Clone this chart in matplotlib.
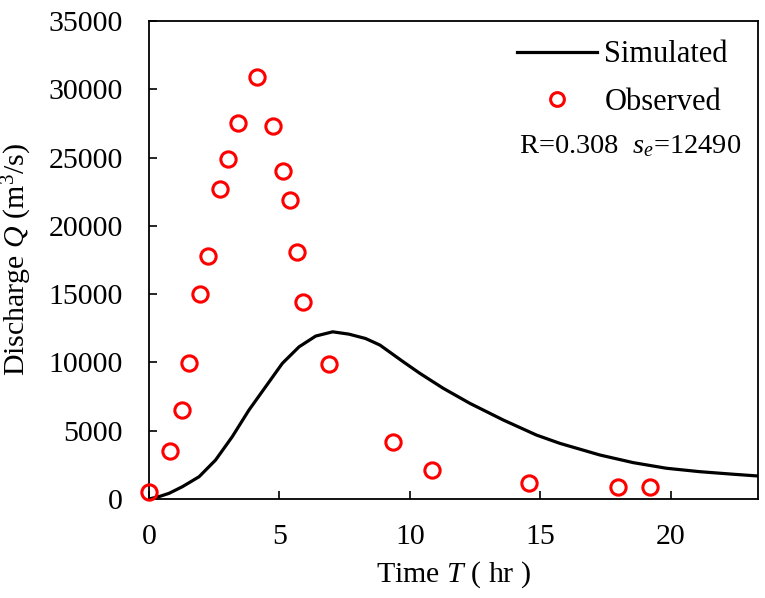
import numpy as np
import matplotlib
matplotlib.use('Agg')
import matplotlib.pyplot as plt

# observed hydrograph
obs_t = [0.0, 0.8, 1.26, 1.53, 1.95, 2.26, 2.72, 3.03, 3.41, 4.14, 4.75,
         5.13, 5.4, 5.67, 5.9, 6.9, 9.35, 10.84, 14.56, 17.96, 19.22]
obs_q = [500, 3500, 6500, 9950, 15000, 17800, 22700, 24900, 27500, 30900, 27300,
         24000, 21900, 18100, 14400, 9900, 4200, 2100, 1200, 850, 850]

# simulated curve
sim_t = [0.0, 0.38, 0.77, 1.28, 1.92, 2.55, 3.19, 3.83, 4.47, 5.11, 5.75, 6.39,
         7.04, 7.66, 8.3, 8.85, 9.74, 10.38, 11.28, 12.3, 13.58, 14.85, 15.75,
         17.28, 18.56, 19.83, 21.1, 22.4, 23.36]
sim_q = [0, 170, 415, 900, 1630, 2850, 4560, 6510, 8220, 9930, 11140, 11930,
         12240, 12070, 11750, 11270, 10050, 9200, 8100, 7000, 5780, 4680, 4070,
         3220, 2660, 2250, 2000, 1810, 1680]

plt.rcParams['font.family'] = ['Liberation Serif', 'DejaVu Serif']
plt.rcParams['mathtext.fontset'] = 'custom'
plt.rcParams['mathtext.rm'] = 'Liberation Serif'
plt.rcParams['mathtext.it'] = 'Liberation Serif:italic'

fig = plt.figure(figsize=(7.65, 5.98), dpi=100)
ax = fig.add_axes([0.1948, 0.1656, 0.7967, 0.7993])

ax.plot(sim_t, sim_q, color='black', lw=2.3, label='Simulated', zorder=2,
        solid_joinstyle='round')
ax.plot(obs_t, obs_q, 'o', ms=11, mfc='none', mec='#ff0000', mew=2.2,
        label='Observed', zorder=3, clip_on=False)

ax.set_xlim(0, 23.36)
ax.set_ylim(0, 35000)
ax.set_xticks([0, 5, 10, 15, 20])
ax.set_yticks(range(0, 35001, 5000))
ax.tick_params(direction='in', length=6, width=1.2, labelsize=21.5)
ax.tick_params(axis='y', pad=19)
ax.tick_params(axis='x', pad=18)
for s in ax.spines.values():
    s.set_linewidth(1.3)

ax.set_xlabel('Time $T$ ( hr )', fontsize=21.5, labelpad=7)
ax.set_ylabel('Discharge $Q$ (m$^3$/s)', fontsize=21.5, labelpad=10)

leg = ax.legend(loc='upper right', bbox_to_anchor=(0.97, 0.985), frameon=False,
                fontsize=22, handlelength=2.6, handletextpad=0.25,
                labelspacing=0.6, markerscale=0.9, borderaxespad=0)
ax.text(0.971, 0.738, 'R=0.308  $s_e$=12490', transform=ax.transAxes,
        ha='right', va='center', fontsize=20.5)

fig.savefig('out.png', dpi=100)
